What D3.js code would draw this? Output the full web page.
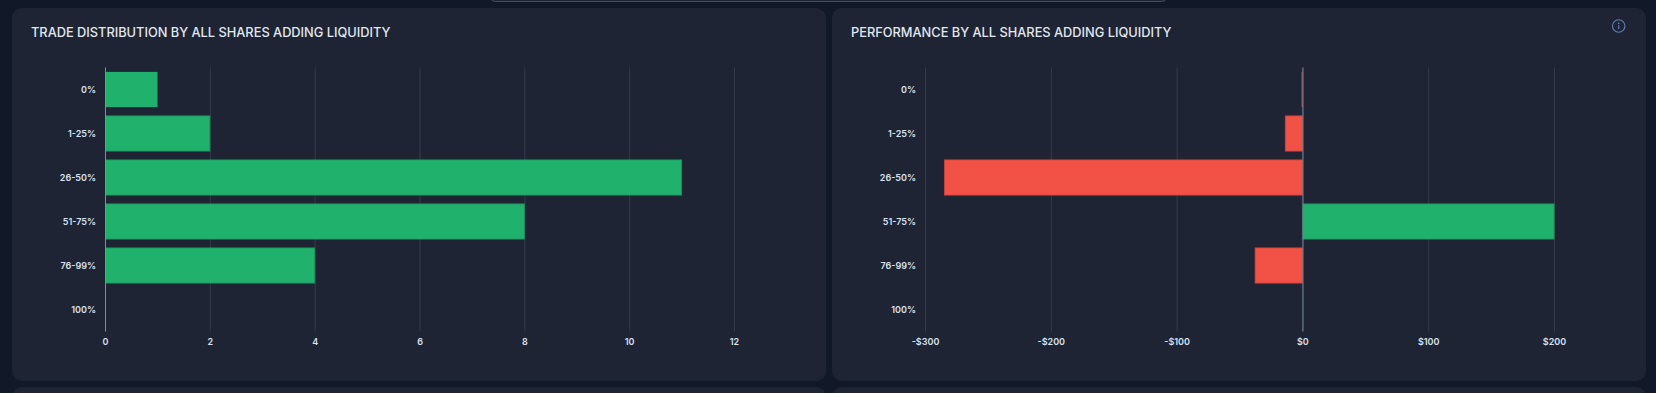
<!DOCTYPE html>
<html>
<head>
<meta charset="utf-8">
<script src="https://cdn.jsdelivr.net/npm/d3@7"></script>
<style>
    html, body { margin: 0; padding: 0; background: #111827; overflow: hidden; }
    svg { display: block; }
    text { font-family: Inter, "Noto Sans", sans-serif; }
    .title { font-size: 12.8px; font-weight: 500; fill: #e2e8f0; }
    .tick text { font-size: 9px; font-weight: 600; fill: #d8e2f0; }
</style>
</head>
<body>
<div id="charts"></div>
<script>
var categories = ["0%", "1-25%", "26-50%", "51-75%", "76-99%", "100%"]
var tradeCounts = [1, 2, 11, 8, 4, 0]
var tradeTicks = [0, 2, 4, 6, 8, 10, 12]
var performance = [-1, -14, -285, 200, -38, 0]
var performanceTicks = [-300, -200, -100, 0, 100, 200]

var width = 1656
var height = 393
var panelBg = "#1e2433"
var green = "#20b26c"
var greenEdge = "#1b9159"
var red = "#f25246"
var redEdge = "#c9423a"

var svg = d3.select("#charts").append("svg")
    .attr("width", width)
    .attr("height", height)

// Edge of the element cut off above the panels
svg.append("rect")
    .attr("x", 489.5).attr("y", -20)
    .attr("width", 678).attr("height", 21.5)
    .attr("rx", 6)
    .attr("fill", "#1e2433")
    .attr("stroke", "#454c5c")

// Tops of the next row of panels
var panelXs = [12, 832]
panelXs.forEach(function(x) {
    svg.append("rect")
        .attr("x", x).attr("y", 387)
        .attr("width", 814).attr("height", 40)
        .attr("rx", 10)
        .attr("fill", panelBg)
})

function drawPanel(opts) {
    var g = svg.append("g").attr("transform", "translate(" + opts.left + ",8)")

    g.append("rect")
        .attr("width", 814).attr("height", 373)
        .attr("rx", 10)
        .attr("fill", panelBg)

    g.append("text")
        .attr("class", "title")
        .attr("x", 19)
        .attr("y", 29)
        .text(opts.title)

    var xScale = d3.scaleLinear()
        .domain(opts.domain)
        .range(opts.range)

    var yScale = d3.scaleBand()
        .domain(categories)
        .range([59.5, 323.5])
        .paddingInner(0.2)
        .paddingOuter(0.1)

    // Gridlines and x labels
    var xAxis = g.append("g")
        .attr("transform", "translate(0,323.5)")
        .call(d3.axisBottom(xScale)
            .offset(0)
            .tickValues(opts.ticks)
            .tickSize(-264)
            .tickPadding(7)
            .tickFormat(opts.format))
    xAxis.select(".domain").remove()
    xAxis.selectAll("line").attr("stroke", "#353b4c").attr("stroke-width", 1)

    // y labels
    var yAxis = g.append("g")
        .attr("transform", "translate(" + opts.range[0] + ",1)")
        .call(d3.axisLeft(yScale).offset(0).tickSize(0).tickPadding(9.5))
    yAxis.select(".domain").remove()

    // Bars
    g.selectAll(".bar")
        .data(opts.values)
        .enter().append("rect")
        .attr("class", "bar")
        .attr("x", function(d) { return Math.min(xScale(0), xScale(d)) })
        .attr("y", function(d, i) { return yScale(categories[i]) })
        .attr("width", function(d) { return Math.max(0, Math.abs(xScale(d) - xScale(0)) - 0.4) })
        .attr("height", yScale.bandwidth())
        .attr("fill", function(d) { return d < 0 ? red : green })
        .attr("stroke", function(d) { return d < 0 ? redEdge : greenEdge })
        .attr("stroke-width", function(d) { return Math.abs(d) < 2 ? 0 : 0.8 })

    // Zero line on top
    g.append("line")
        .attr("x1", xScale(0)).attr("x2", xScale(0))
        .attr("y1", 59.5).attr("y2", 323.5)
        .attr("stroke", opts.zeroColor)
        .attr("stroke-width", opts.zeroWidth)
}

drawPanel({
    left: 12,
    title: "TRADE DISTRIBUTION BY ALL SHARES ADDING LIQUIDITY",
    values: tradeCounts,
    domain: [0, 12],
    range: [93.5, 722.5],
    ticks: tradeTicks,
    format: function(d) { return d },
    zeroColor: "#858a99",
    zeroWidth: 1
})

drawPanel({
    left: 832,
    title: "PERFORMANCE BY ALL SHARES ADDING LIQUIDITY",
    values: performance,
    domain: [-300, 200],
    range: [93.5, 722.5],
    ticks: performanceTicks,
    format: function(d) { return (d < 0 ? "-$" : "$") + Math.abs(d) },
    zeroColor: "rgba(120,135,155,0.5)",
    zeroWidth: 2
})

// Info icon
var info = svg.append("g").attr("transform", "translate(1618.7,26)")
info.append("circle")
    .attr("r", 6.2)
    .attr("fill", "none")
    .attr("stroke", "#5f7fb8")
    .attr("stroke-width", 1.1)
info.append("line")
    .attr("y1", -0.8).attr("y2", 3)
    .attr("stroke", "#5f7fb8")
    .attr("stroke-width", 1.2)
info.append("circle")
    .attr("cy", -2.6).attr("r", 0.8)
    .attr("fill", "#5f7fb8")
</script>
</body>
</html>
